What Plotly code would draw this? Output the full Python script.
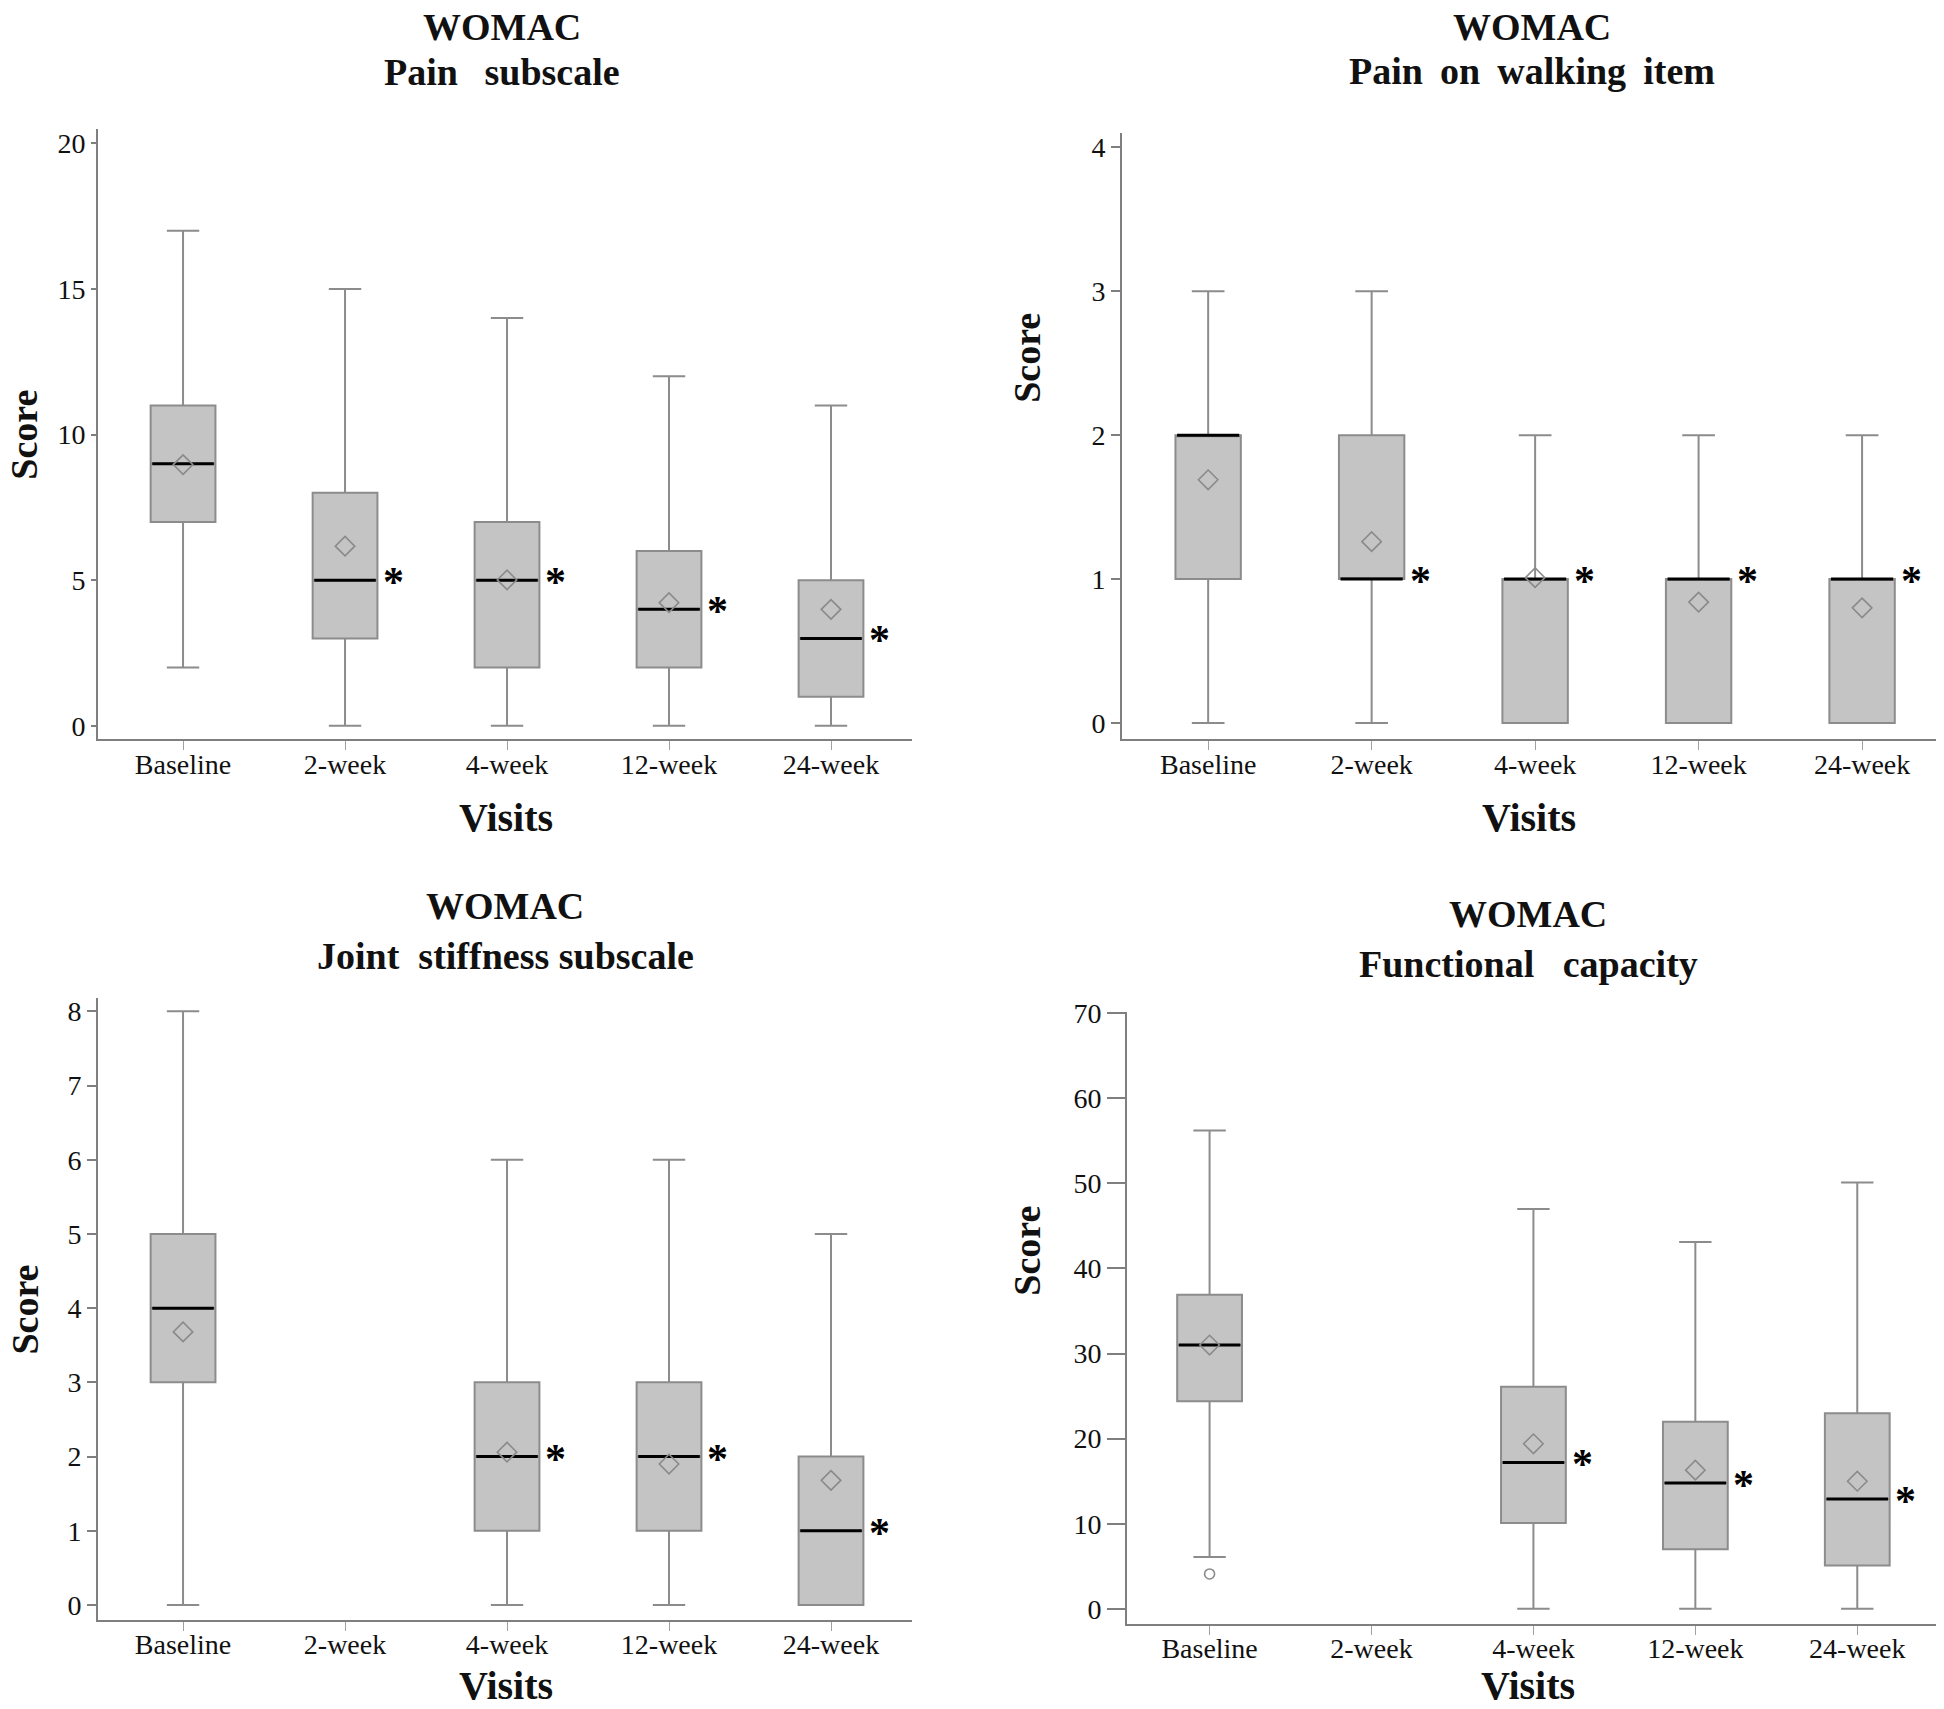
import plotly.graph_objects as go

W, H = 1944, 1709

categories = ["Baseline", "2-week", "4-week", "12-week", "24-week"]

# Panel 1: Pain subscale
pain_pos = [0, 1, 2, 3, 4]
pain_q1 = [7, 3, 2, 2, 1]
pain_med = [9, 5, 5, 4, 3]
pain_q3 = [11, 8, 7, 6, 5]
pain_lo = [2, 0, 0, 0, 0]
pain_hi = [17, 15, 14, 12, 11]
pain_mean = [8.97, 6.17, 5.01, 4.23, 4.0]
pain_sig = [False, True, True, True, True]

# Panel 2: Pain on walking item
walk_pos = [0, 1, 2, 3, 4]
walk_q1 = [1, 1, 0, 0, 0]
walk_med = [2, 1, 1, 1, 1]
walk_q3 = [2, 2, 1, 1, 1]
walk_lo = [0, 0, 0, 0, 0]
walk_hi = [3, 3, 2, 2, 2]
walk_mean = [1.69, 1.26, 1.01, 0.84, 0.80]
walk_sig = [False, True, True, True, True]

# Panel 3: Joint stiffness subscale (no 2-week data)
stiff_pos = [0, 2, 3, 4]
stiff_q1 = [3, 1, 1, 0]
stiff_med = [4, 2, 2, 1]
stiff_q3 = [5, 3, 3, 2]
stiff_lo = [0, 0, 0, 0]
stiff_hi = [8, 6, 6, 5]
stiff_mean = [3.68, 2.06, 1.90, 1.68]
stiff_sig = [False, True, True, True]

# Panel 4: Functional capacity (no 2-week data)
func_pos = [0, 2, 3, 4]
func_q1 = [24.4, 10.1, 7.0, 5.1]
func_med = [31, 17.2, 14.8, 12.9]
func_q3 = [36.9, 26.1, 22.0, 23.0]
func_lo = [6.1, 0, 0, 0]
func_hi = [56.2, 47.0, 43.1, 50.1]
func_mean = [31.0, 19.4, 16.3, 15.0]
func_sig = [False, True, True, True]
func_out_pos = [0]
func_out_val = [4.1]

titles = [["WOMAC", "Pain\u00a0\u2009 subscale"],
          ["WOMAC", "Pain\u2009 on\u2009 walking\u2009 item"],
          ["WOMAC", "Joint\u00a0 stiffness subscale"],
          ["WOMAC", "Functional\u00a0\u00a0 capacity"]]

FONT = "Liberation Serif"
BOX_FILL = "#c4c4c4"
BOX_LINE = "#8c8c8c"
AXIS_COL = "#7f7f7f"
BOX_W = 0.40

# page offset compensation (measured)
def cx(x):
    return x - 8


def cy(y):
    return y - (20.5 - 13.0 * y / 1700.0)


def px_x(a, b):
    return [cx(a) / W, cx(b) / W]


def px_y(top, bottom):
    return [1 - cy(bottom) / H, 1 - cy(top) / H]


def pap(x, y):
    return cx(x) / W, 1 - cy(y) / H


panels = [
    dict(pos=pain_pos, q1=pain_q1, med=pain_med, q3=pain_q3, lo=pain_lo, hi=pain_hi,
         mean=pain_mean, sig=pain_sig, xdom=px_x(98, 912), ydom=px_y(128, 739),
         xr=[-0.525, 4.5], yr=[-0.45, 20.48], dtick=5, yticklen=5,
         title_x=502, title_y=(25, 70), score=(24, 434), visits=(506, 818)),
    dict(pos=walk_pos, q1=walk_q1, med=walk_med, q3=walk_q3, lo=walk_lo, hi=walk_hi,
         mean=walk_mean, sig=walk_sig, xdom=px_x(1122, 1952), ydom=px_y(132, 739),
         xr=[-0.527, 4.55], yr=[-0.111, 4.097], dtick=1, yticklen=9,
         title_x=1532, title_y=(25, 69), score=(1027, 357), visits=(1529, 818)),
    dict(pos=stiff_pos, q1=stiff_q1, med=stiff_med, q3=stiff_q3, lo=stiff_lo, hi=stiff_hi,
         mean=stiff_mean, sig=stiff_sig, xdom=px_x(98, 912), ydom=px_y(999, 1622),
         xr=[-0.525, 4.5], yr=[-0.2, 8.175], dtick=1, yticklen=9,
         title_x=505, title_y=(906, 957), score=(25, 1311), visits=(506, 1688)),
    dict(pos=func_pos, q1=func_q1, med=func_med, q3=func_q3, lo=func_lo, hi=func_hi,
         mean=func_mean, sig=func_sig, xdom=px_x(1127, 1952), ydom=px_y(1013, 1626),
         xr=[-0.51, 4.585], yr=[-1.76, 70.1], dtick=10, yticklen=18,
         title_x=1528, title_y=(914, 965), score=(1027, 1252), visits=(1528, 1688)),
]

fig = go.Figure()
annotations = []
layout = {}

for i, p in enumerate(panels):
    n = i + 1
    xa = "x" if n == 1 else f"x{n}"
    ya = "y" if n == 1 else f"y{n}"
    xkey = "xaxis" if n == 1 else f"xaxis{n}"
    ykey = "yaxis" if n == 1 else f"yaxis{n}"

    fig.add_trace(go.Box(
        x=p["pos"], q1=p["q1"], median=p["med"], q3=p["q3"],
        lowerfence=p["lo"], upperfence=p["hi"],
        width=BOX_W, whiskerwidth=0.5,
        fillcolor=BOX_FILL, line=dict(color=BOX_LINE, width=2),
        boxpoints=False, showlegend=False, hoverinfo="skip",
        xaxis=xa, yaxis=ya,
    ))

    # median lines (black)
    mx, my = [], []
    for xp, m in zip(p["pos"], p["med"]):
        mx += [xp - BOX_W / 2 + 0.01, xp + BOX_W / 2 - 0.01, None]
        my += [m, m, None]
    fig.add_trace(go.Scatter(x=mx, y=my, mode="lines",
                             line=dict(color="black", width=3),
                             showlegend=False, hoverinfo="skip",
                             xaxis=xa, yaxis=ya))

    # means (open diamonds)
    fig.add_trace(go.Scatter(x=p["pos"], y=p["mean"], mode="markers",
                             marker=dict(symbol="diamond-open", size=15,
                                         color="#8a8a8a", line=dict(width=1.6)),
                             showlegend=False, hoverinfo="skip",
                             xaxis=xa, yaxis=ya))

    # significance stars
    for xp, m, s in zip(p["pos"], p["med"], p["sig"]):
        if s:
            annotations.append(dict(x=xp + 0.30, y=m, xref=xa, yref=ya,
                                    text="<b>*</b>", showarrow=False,
                                    font=dict(family=FONT, size=42, color="black"),
                                    yshift=-2))

    layout[xkey] = dict(domain=p["xdom"], range=p["xr"], anchor=ya,
                        tickmode="array", tickvals=[0, 1, 2, 3, 4], ticktext=categories,
                        showline=True, linecolor=AXIS_COL, linewidth=2,
                        ticks="outside", ticklen=9, tickcolor="#a0a0a0", tickwidth=1,
                        ticklabelstandoff=-10,
                        showgrid=False, zeroline=False,
                        tickfont=dict(family=FONT, size=28, color="#111"))
    layout[ykey] = dict(domain=p["ydom"], range=p["yr"], anchor=xa,
                        tick0=0, dtick=p["dtick"],
                        showline=True, linecolor=AXIS_COL, linewidth=2,
                        ticks="outside", ticklen=p["yticklen"], tickcolor=AXIS_COL, tickwidth=1.5,
                        showgrid=False, zeroline=False,
                        tickfont=dict(family=FONT, size=28, color="#111"))

    # titles
    for txt, ty in zip(titles[i], p["title_y"]):
        ax_, ay_ = pap(p["title_x"], ty)
        annotations.append(dict(x=ax_, y=ay_, xref="paper", yref="paper",
                                text=f"<b>{txt}</b>", showarrow=False,
                                xanchor="center", yanchor="middle",
                                font=dict(family=FONT, size=38, color="#111")))
    sx, sy = pap(*p["score"])
    annotations.append(dict(x=sx, y=sy, xref="paper", yref="paper", text="<b>Score</b>",
                            textangle=-90, showarrow=False,
                            xanchor="center", yanchor="middle",
                            font=dict(family=FONT, size=38, color="#111")))
    vx, vy = pap(*p["visits"])
    annotations.append(dict(x=vx, y=vy, xref="paper", yref="paper", text="<b>Visits</b>",
                            showarrow=False, xanchor="center", yanchor="middle",
                            font=dict(family=FONT, size=40, color="#111")))

# outlier in functional capacity
fig.add_trace(go.Scatter(x=func_out_pos, y=func_out_val, mode="markers",
                         marker=dict(symbol="circle-open", size=10, color="#8a8a8a",
                                     line=dict(width=1.6)),
                         showlegend=False, hoverinfo="skip", xaxis="x4", yaxis="y4"))

fig.update_layout(
    width=W, height=H,
    margin=dict(l=0, r=0, t=0, b=0),
    paper_bgcolor="white", plot_bgcolor="white",
    annotations=annotations,
    showlegend=False,
    **layout,
)

fig.write_html("out.html")
